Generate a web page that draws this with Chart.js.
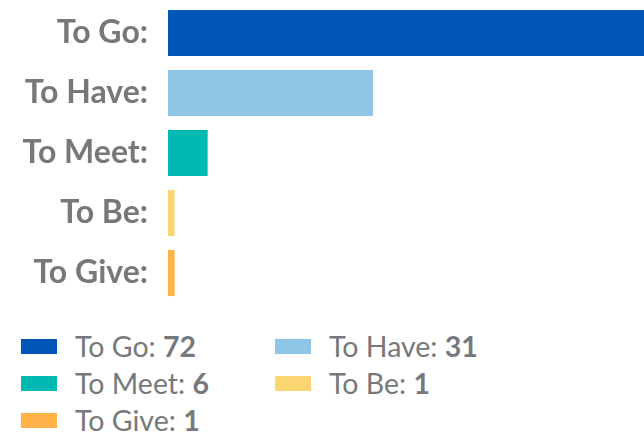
<!DOCTYPE html>
<html>
<head>
<meta charset="utf-8">
<script src="https://cdn.jsdelivr.net/npm/chart.js@4/dist/chart.umd.min.js"></script>
<style>
  html, body { margin: 0; padding: 0; background: #fff; }
  body { width: 644px; height: 437px; overflow: hidden; position: relative; font-family: Lato, sans-serif; }
  #wrap { position: absolute; left: 0; top: 0; width: 644px; height: 305px; }
  #legend { position: absolute; left: 0; top: 328px; width: 644px; }
  .item { position: absolute; height: 36px; line-height: 36px; font-size: 28.5px; color: #76797c; white-space: nowrap; }
  .box { position: absolute; left: 0; top: 11px; width: 36px; height: 15px; }
  .txt { position: absolute; left: 54px; top: 0; }
  .txt b { font-weight: 700; }
</style>
</head>
<body>
<div id="wrap"><canvas id="c"></canvas></div>
<div id="legend"></div>
<script>
const categories = ["To Go", "To Have", "To Meet", "To Be", "To Give"];
const values = [72, 31, 6, 1, 1];
const colors = ["#0057b8", "#8fc6e8", "#00b9b3", "#fcd672", "#ffb248"];

function build() {
  new Chart(document.getElementById('c'), {
    type: 'bar',
    data: {
      labels: categories.map(c => c + ':'),
      datasets: [{
        data: values,
        backgroundColor: colors,
        borderWidth: 0,
        barPercentage: 0.77,
        categoryPercentage: 1.0
      }]
    },
    options: {
      indexAxis: 'y',
      responsive: true,
      maintainAspectRatio: false,
      animation: false,
      layout: { padding: { top: 3, bottom: 2, left: 0, right: 0 } },
      plugins: { legend: { display: false }, tooltip: { enabled: false } },
      scales: {
        x: { display: false, min: 0, max: 72 },
        y: {
          grid: { display: false },
          border: { display: false },
          afterFit: s => { s.width = 168; s.paddingTop = 0; s.paddingBottom = 0; },
          ticks: {
            color: '#76797c',
            padding: 12,
            font: { family: 'Lato', size: 32, weight: 'bold' }
          }
        }
      }
    }
  });

  const legend = document.getElementById('legend');
  const cols = [21, 275];
  categories.forEach((c, i) => {
    const row = Math.floor(i / 2), col = i % 2;
    const el = document.createElement('div');
    el.className = 'item';
    el.style.left = cols[col] + 'px';
    el.style.top = (row * 37) + 'px';
    el.innerHTML = '<div class="box" style="background:' + colors[i] + '"></div>' +
      '<div class="txt">' + c + ': <b>' + values[i] + '</b></div>';
    legend.appendChild(el);
  });
}

Promise.all([
  document.fonts.load('bold 32px Lato'),
  document.fonts.load('28px Lato')
]).then(build, build);
</script>
</body>
</html>
